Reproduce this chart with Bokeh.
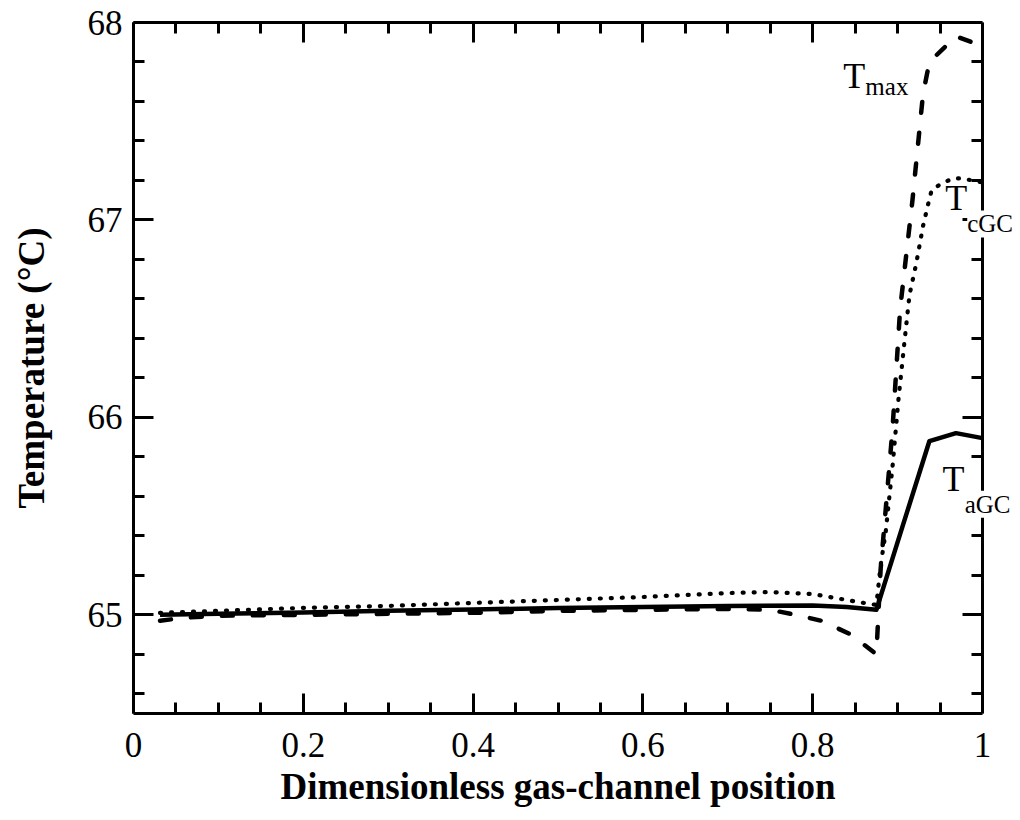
from bokeh.plotting import figure
from bokeh.models import Range1d, LinearAxis, FixedTicker, Label
from bokeh.embed import file_html
from bokeh.resources import INLINE

# Anode gas-channel temperature (solid)
x_agc = [0.03125, 0.1, 0.2, 0.3, 0.4, 0.5, 0.6, 0.7, 0.8, 0.84, 0.875,
         0.906, 0.9375, 0.96875, 1.0]
t_agc = [65.0, 65.005, 65.012, 65.02, 65.027, 65.034, 65.04, 65.045, 65.047,
         65.04, 65.025, 65.45, 65.88, 65.92, 65.895]

# Cathode gas-channel temperature (dotted)
x_cgc = [0.03125, 0.1, 0.2, 0.3, 0.4, 0.5, 0.6, 0.7, 0.75, 0.8, 0.84, 0.86,
         0.875, 0.88, 0.886, 0.894, 0.901, 0.908, 0.914, 0.922, 0.930, 0.936,
         0.94, 0.95, 0.965, 0.976, 1.0]
t_cgc = [65.01, 65.02, 65.035, 65.045, 65.06, 65.075, 65.09, 65.11, 65.115,
         65.105, 65.075, 65.06, 65.05, 65.25, 65.42, 65.75, 66.09, 66.38,
         66.62, 66.78, 66.97, 67.08, 67.15, 67.18, 67.21, 67.21, 67.19]

# Maximum temperature (dashed)
x_max = [0.03125, 0.06, 0.1, 0.2, 0.3, 0.4, 0.5, 0.6, 0.7, 0.75, 0.78, 0.81,
         0.845, 0.875, 0.88, 0.894, 0.903, 0.9175, 0.93, 0.9375, 0.96875, 1.0]
t_max = [64.97, 64.985, 64.995, 65.0, 65.005, 65.01, 65.02, 65.025, 65.03,
         65.025, 65.0, 64.97, 64.9, 64.8, 65.23, 65.94, 66.55, 67.1, 67.64,
         67.8, 67.93, 67.88]

x_ticks = [0, 0.2, 0.4, 0.6, 0.8, 1.0]
x_minor = [0.05, 0.1, 0.15, 0.25, 0.3, 0.35, 0.45, 0.5, 0.55, 0.65, 0.7, 0.75,
           0.85, 0.9, 0.95]
y_ticks = [65, 66, 67, 68]
y_minor = [64.6, 64.8, 65.2, 65.4, 65.6, 65.8, 66.2, 66.4, 66.6, 66.8,
           67.2, 67.4, 67.6, 67.8]

# Curve name labels: (main letter, subscript, x, y of main, x, y of subscript)
labels = [
    ("T", "max", 0.836, 67.73, 0.862, 67.675),
    ("T", "cGC", 0.956, 67.11, 0.982, 66.98),
    ("T", "aGC", 0.953, 65.69, 0.979, 65.56),
]

FONT = "Liberation Serif"
X_MAX, Y_MIN, Y_MAX = 1.0, 64.5, 68.0

# The frame runs a little past x = 1 so the curve names can overhang the
# right-hand box line; the box itself is drawn by axes bounded to [0, 1].
PX_PER_UNIT = 849
OVERHANG = 37
FRAME_W, FRAME_H = PX_PER_UNIT + OVERHANG, 691
p = figure(frame_width=FRAME_W, frame_height=FRAME_H, output_backend="svg",
           toolbar_location=None,
           x_range=Range1d(0, FRAME_W / PX_PER_UNIT),
           y_range=Range1d(Y_MIN, Y_MAX),
           min_border_left=133, min_border_right=1, min_border_top=22,
           min_border_bottom=107)
p.outline_line_color = None
p.xgrid.visible = False
p.ygrid.visible = False
p.background_fill_color = "white"
p.border_fill_color = "white"

xt = FixedTicker(ticks=x_ticks, minor_ticks=x_minor)
yt = FixedTicker(ticks=y_ticks, minor_ticks=y_minor)


def style_axis(ax, show_labels, ticks):
    ax.axis_line_width = 3
    ax.axis_line_color = "black"
    ax.major_tick_line_width = 3
    ax.minor_tick_line_width = 3
    ax.major_tick_in = 20
    ax.major_tick_out = 0
    ax.minor_tick_in = 11
    ax.minor_tick_out = 0
    ax.major_label_text_font = FONT
    ax.axis_label_text_font = FONT
    if show_labels:
        ax.major_label_text_font_size = "35px"
        ax.major_label_text_color = "black"
    else:
        # mirrored ticks only, no numbers
        ax.major_label_overrides = {t: "" for t in ticks}
        ax.major_label_text_color = None
        ax.major_label_standoff = 0


p.xaxis.ticker = xt
p.yaxis.ticker = yt
p.xaxis.bounds = (0, X_MAX)
style_axis(p.xaxis[0], True, x_ticks)
style_axis(p.yaxis[0], True, y_ticks)
p.xaxis.major_label_overrides = {0: "0", 1: "1"}
p.xaxis.major_label_standoff = 19
p.yaxis.major_label_standoff = 11
# trailing no-break spaces keep the title centred under the [0, 1] box
# rather than under the wider frame
p.xaxis.axis_label = "Dimensionless gas-channel position" + "\u00a0" * 4
p.yaxis.axis_label = "Temperature (°C)"
for ax in (p.xaxis[0], p.yaxis[0]):
    ax.axis_label_text_font_size = "37px"
    ax.axis_label_text_font_style = "bold"
    ax.axis_label_text_color = "black"
p.xaxis.axis_label_standoff = 6
p.yaxis.axis_label_standoff = 33

top = LinearAxis(ticker=xt, bounds=(0, X_MAX))
right = LinearAxis(ticker=yt, fixed_location=X_MAX)
style_axis(top, False, x_ticks)
style_axis(right, False, y_ticks)
p.add_layout(top, "above")
p.add_layout(right, "right")

p.line(x_agc, t_agc, line_color="black", line_width=4.5, line_join="round")
p.line(x_cgc, t_cgc, line_color="black", line_width=4.2, line_dash="1 10",
       line_cap="round", line_join="round")
p.line(x_max, t_max, line_color="black", line_width=4.5, line_dash="11 20",
       line_cap="round", line_join="round")

for main, sub, xm, ym, xs, ys in labels:
    p.add_layout(Label(x=xs, y=ys, text=sub, text_font=FONT,
                       text_font_size="25px", text_color="black",
                       text_align="left", text_baseline="alphabetic",
                       background_fill_color="white", level="overlay"))
    p.add_layout(Label(x=xm, y=ym, text=main, text_font=FONT,
                       text_font_size="36px", text_color="black",
                       text_align="left", text_baseline="alphabetic",
                       level="overlay"))

open("out.html", "w").write(file_html(p, INLINE))
